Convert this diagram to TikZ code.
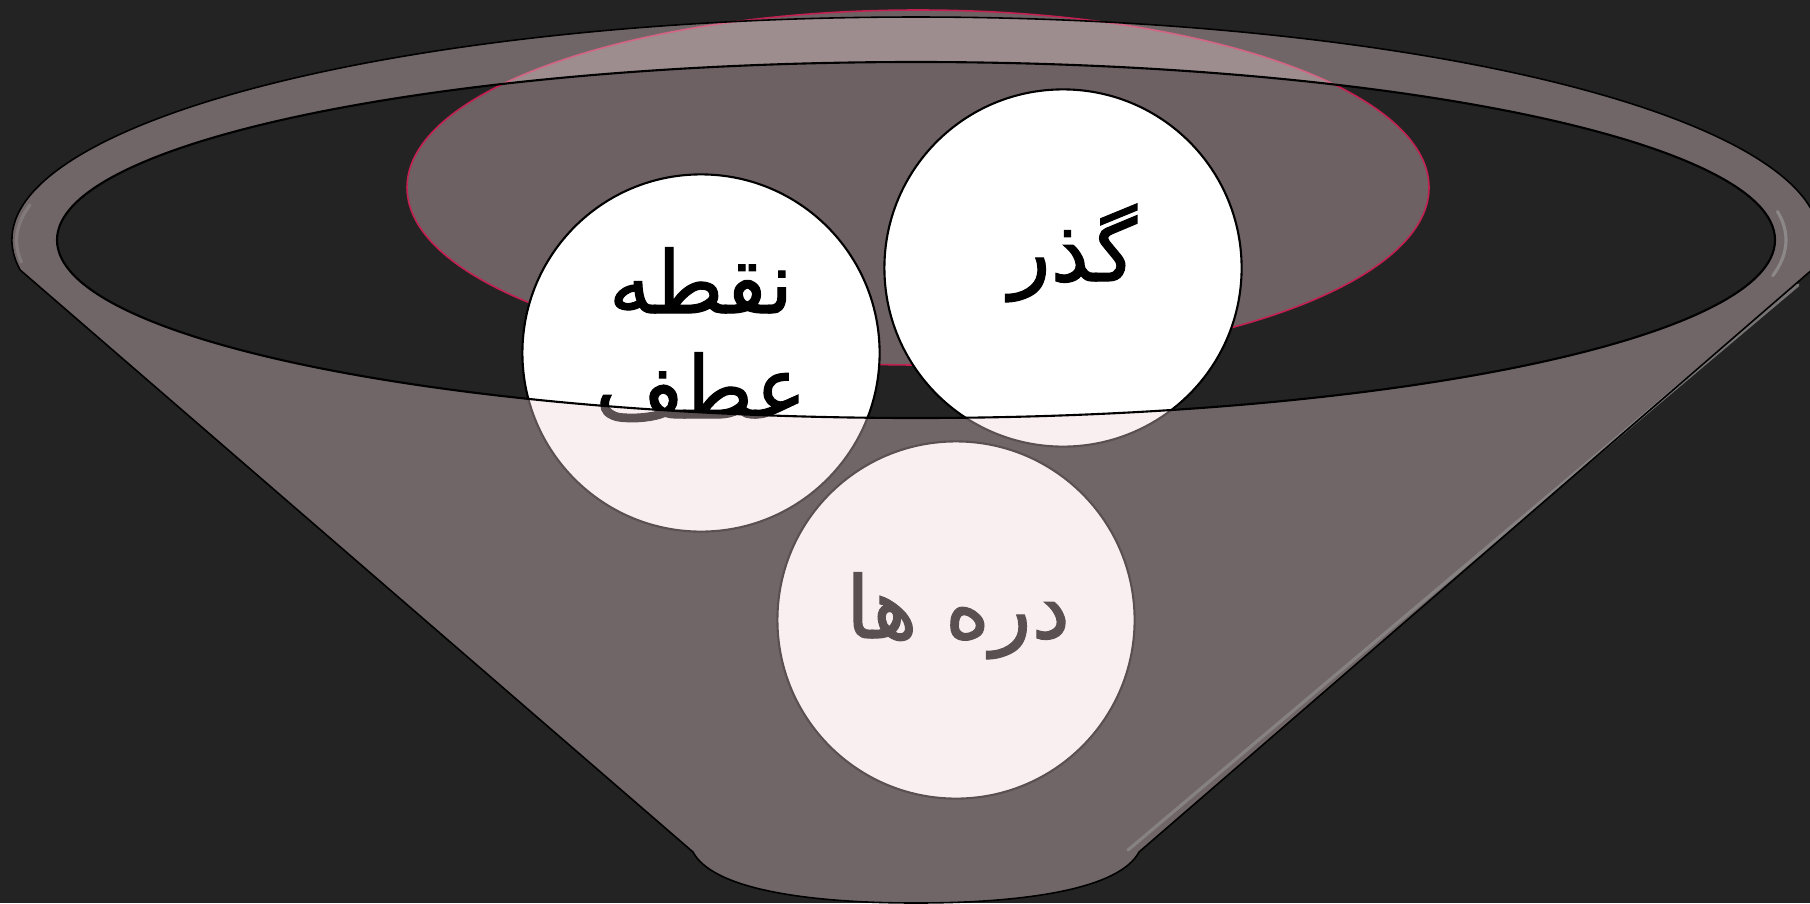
\documentclass[tikz,border=0pt]{standalone}
\usepackage{fontspec}
\newfontfamily\arabicfont[Script=Arabic, FakeBold=1.3]{DejaVu Sans}
\TeXXeTstate=1
\definecolor{bgdark}{RGB}{35,35,35}
\definecolor{pinkfill}{RGB}{110,97,99}
\definecolor{pinkedge}{RGB}{196,32,82}
\definecolor{glass}{RGB}{240,214,216}
\definecolor{shine}{RGB}{140,136,137}
\tikzset{
  ball/.style={circle, draw=black, line width=0.6pt, fill=white, minimum size=3.57cm, inner sep=0pt},
  persian/.style={font=\arabicfont\fontsize{24.5}{28}\selectfont, text=black, inner sep=0pt, anchor=base},
  funnelfill/.style={fill=glass, fill opacity=0.375, even odd rule},
  funneledge/.style={draw=black, line width=0.45pt},
  rimedge/.style={draw=black, line width=0.6pt},
  shineline/.style={draw=shine, line width=0.9pt, line cap=round},
}
\begin{document}
\begin{tikzpicture}[x=0.01cm,y=-0.01cm]
\fill[bgdark] (0,0) rectangle (1810,903);
\useasboundingbox (0,0) rectangle (1810,903);
% pink ellipse behind
\draw[draw=pinkedge, line width=0.45pt, fill=pinkfill] (918,187.5) ellipse [x radius=511, y radius=177.5];
% circles
\node[ball] (c1) at (701,353) {};
\node[ball] (c2) at (1063,268) {};
\node[ball] (c3) at (956,620) {};
% texts
\node[persian] (t1a) at (701,313) {\beginR نقطه\endR};
\node[persian] (t1b) at (701,418) {\beginR عطف\endR};
\node[persian] (t2) at (1073,281) {\beginR گذر\endR};
\node[persian] (t3) at (958,638) {\beginR دره ها\endR};
% funnel glass overlay
\path[funnelfill] (20.2,270) arc[start angle=172.27, end angle=367.73, x radius=904, y radius=223]
  -- (1139,852) .. controls (1120,888) and (1030,903) .. (916,903)
  .. controls (802,903) and (712,888) .. (693,852) -- cycle
  (916,240) ellipse [x radius=859, y radius=178];
% highlights
\draw[shineline] (1777.5,211.5) arc[start angle=-8, end angle=10, x radius=870, y radius=205];
\draw[shineline, draw opacity=0.8] (1798,285) -- (1128,850);
\draw[shineline, draw opacity=0.6] (30,205) arc[start angle=190, end angle=174, x radius=885, y radius=205];
% outlines
\draw[funneledge] (20.2,270) arc[start angle=172.27, end angle=367.73, x radius=904, y radius=223]
  -- (1139,852) .. controls (1120,888) and (1030,903) .. (916,903)
  .. controls (802,903) and (712,888) .. (693,852) -- cycle;
\draw[rimedge] (916,240) ellipse [x radius=859, y radius=178];
\end{tikzpicture}
\end{document}
